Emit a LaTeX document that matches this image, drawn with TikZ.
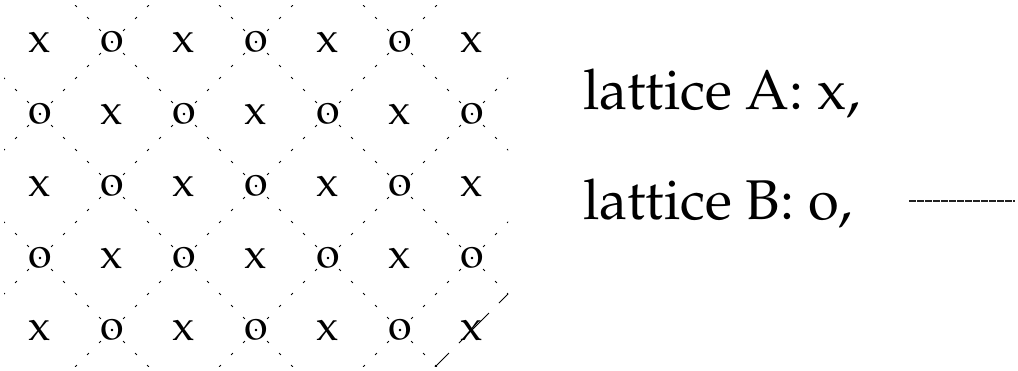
\documentclass[tikz,border=0pt]{standalone}
\usepackage[T1]{fontenc}
\usepackage{mathpazo}
\definecolor{ink}{HTML}{000000}
\definecolor{rule}{HTML}{222222}
\tikzset{
  site/.style={inner sep=0pt,font=\fontsize{43}{47}\selectfont,text=ink},
  legend/.style={inner sep=0pt,anchor=base west,font=\fontsize{56}{60}\selectfont,text=ink},
  latline/.style={ink,line width=1pt,dash pattern=on 2.5pt off 14.4706pt,dash phase=1.25pt},
  cutline/.style={ink,line width=1pt,dash pattern=on 42.4pt off 14.1pt},
  bline/.style={rule,line width=1.1pt,dash pattern=on 7pt off 1pt}
}

\begin{document}
\begin{tikzpicture}[x=72pt,y=72pt]
\useasboundingbox (-0.5556,0.5833) rectangle (13.5833,-4.5556);
% x / o sites
\foreach \i in {0,...,6}{\foreach \j in {0,...,4}{
  \pgfmathtruncatemacro\k{mod(\i+\j,2)}
  \node[site] (s-\i-\j) at (\i,-\j) {\ifnum\k=1 o\else x\fi};
}}
% dotted diagonals through the o sites
\begin{scope}
\clip (-0.5,0.5) rectangle (6.5,-4.5);
\foreach \c in {-3,-1,...,5} \draw[latline] (-2,\c+2) -- (8,\c-8);
\foreach \d in {1,3,...,9} \draw[latline] (-2,-2-\d) -- (8,8-\d);
\draw[cutline] (5.264,-4.736) -- (7,-3);
\end{scope}
% legend
\node[legend] (legA) at (7.542,-0.944) {lattice A: x,};
\node[legend] (legB) at (7.542,-2.472) {lattice B: o,};
\coordinate (bl) at (12.07,-2.208);
\coordinate (br) at (13.54,-2.208);
\draw[bline] (bl) -- (br);
\end{tikzpicture}
\end{document}
